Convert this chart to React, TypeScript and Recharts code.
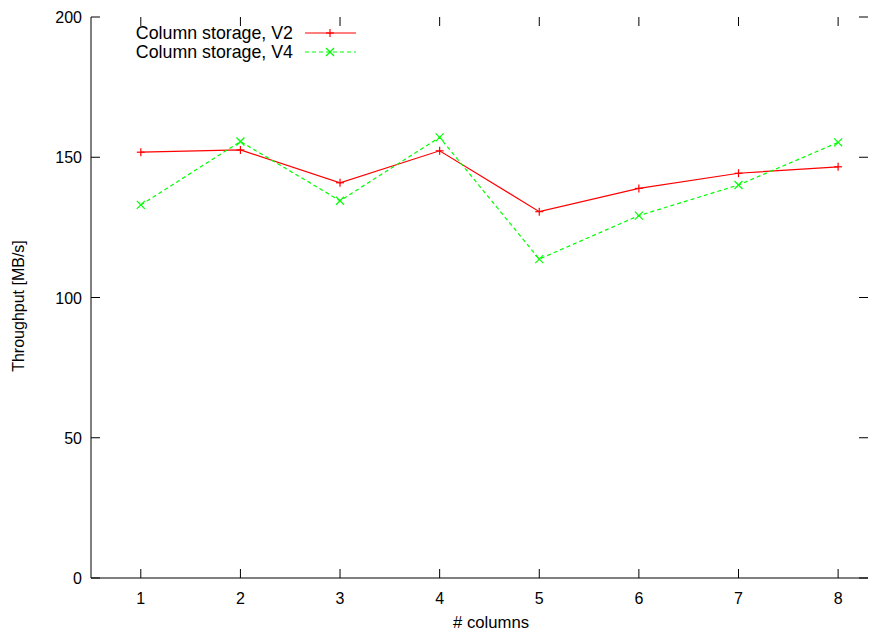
import { LineChart, Line, XAxis, YAxis, Legend, Label } from 'recharts';

const columns = [1, 2, 3, 4, 5, 6, 7, 8];
const v2Throughput = [151.8, 152.6, 140.9, 152.3, 130.6, 138.9, 144.3, 146.6];
const v4Throughput = [133.0, 155.6, 134.5, 157.1, 113.7, 129.2, 140.1, 155.3];
const seriesNames = ['Column storage, V2', 'Column storage, V4'];
const yTicks = [0, 50, 100, 150, 200];

const data = columns.map((c, i) => ({ cols: c, v2: v2Throughput[i], v4: v4Throughput[i] }));

const W = 880;
const H = 632;
const LEFT = 91;
const RIGHT = 868;
const TOP = 17;
const BOTTOM = 578;
const TICK = 9;
const FONT = '"Liberation Sans", Arial, sans-serif';
const RED = '#ff0000';
const GREEN = '#00ff00';

function Plus({ cx, cy }: any) {
  if (cx == null || cy == null) return null;
  return (
    <g stroke={RED} strokeWidth={1.2}>
      <line x1={cx - 4} y1={cy} x2={cx + 4} y2={cy} />
      <line x1={cx} y1={cy - 4} x2={cx} y2={cy + 4} />
    </g>
  );
}

function Cross({ cx, cy }: any) {
  if (cx == null || cy == null) return null;
  return (
    <g stroke={GREEN} strokeWidth={1.2}>
      <line x1={cx - 4} y1={cy - 4} x2={cx + 4} y2={cy + 4} />
      <line x1={cx - 4} y1={cy + 4} x2={cx + 4} y2={cy - 4} />
    </g>
  );
}

function XTick({ x, payload }: any) {
  return (
    <g>
      <line x1={x} y1={BOTTOM} x2={x} y2={BOTTOM - TICK} stroke="#000" />
      <line x1={x} y1={TOP} x2={x} y2={TOP + TICK} stroke="#000" />
      <text x={x} y={604} textAnchor="middle" fontSize={16} fontFamily={FONT} fill="#000">
        {payload.value}
      </text>
    </g>
  );
}

function YTick({ y, payload }: any) {
  return (
    <g>
      <line x1={LEFT} y1={y} x2={LEFT + TICK} y2={y} stroke="#000" />
      <line x1={RIGHT} y1={y} x2={RIGHT - TICK} y2={y} stroke="#000" />
      <text x={82} y={y + 6} textAnchor="end" fontSize={16} fontFamily={FONT} fill="#000">
        {payload.value}
      </text>
    </g>
  );
}

function LegendBox() {
  const rows = [
    { name: seriesNames[0], color: RED, dash: undefined, Mark: Plus },
    { name: seriesNames[1], color: GREEN, dash: '4 3', Mark: Cross },
  ];
  return (
    <svg width={380} height={70} style={{ display: 'block' }}>
      {rows.map((r, i) => {
        const y = 33 + i * 19;
        return (
          <g key={r.name}>
            <text x={293} y={y + 6} textAnchor="end" fontSize={17.8} fontFamily={FONT} fill="#000">
              {r.name}
            </text>
            <line x1={305} y1={y} x2={356} y2={y} stroke={r.color} strokeWidth={1.2} strokeDasharray={r.dash} />
            <r.Mark cx={330} cy={y} />
          </g>
        );
      })}
    </svg>
  );
}

export default function App() {
  return (
    <div style={{ position: 'absolute', left: 0, top: 0, width: W, height: H, background: '#fff' }}>
      <LineChart width={W} height={H} data={data} margin={{ top: TOP, right: W - RIGHT, bottom: 0, left: 0 }}>
        <XAxis
          dataKey="cols"
          type="number"
          domain={[0.5, 8.3]}
          ticks={columns}
          height={H - BOTTOM}
          axisLine={{ stroke: '#000' }}
          tickLine={false}
          tick={<XTick />}
          interval={0}
        >
          <Label
            content={() => (
              <text x={491} y={628} textAnchor="middle" fontSize={16.7} fontFamily={FONT} fill="#000">
                # columns
              </text>
            )}
          />
        </XAxis>
        <XAxis xAxisId="top" orientation="top" height={0} tick={false} tickLine={false} axisLine={{ stroke: '#000' }} dataKey="cols" type="number" domain={[0.5, 8.3]} />
        <YAxis
          domain={[0, 200]}
          ticks={yTicks}
          width={LEFT}
          axisLine={{ stroke: '#000' }}
          tickLine={false}
          tick={<YTick />}
          interval={0}
        >
          <Label
            content={() => (
              <text
                x={24}
                y={306}
                transform="rotate(-90 24 306)"
                textAnchor="middle"
                fontSize={16}
                fontFamily={FONT}
                fill="#000"
              >
                Throughput [MB/s]
              </text>
            )}
          />
        </YAxis>
        <YAxis yAxisId="right" orientation="right" width={0} tick={false} tickLine={false} axisLine={{ stroke: '#000' }} domain={[0, 200]} />
        <Legend
          layout="horizontal"
          verticalAlign="middle"
          align="center"
          wrapperStyle={{ position: 'absolute', top: 0, left: 0, width: 380, height: 70 }}
          content={() => <LegendBox />}
        />
        <Line
          dataKey="v2"
          name={seriesNames[0]}
          stroke={RED}
          strokeWidth={1.2}
          dot={<Plus />}
          activeDot={false}
          isAnimationActive={false}
        />
        <Line
          dataKey="v4"
          name={seriesNames[1]}
          stroke={GREEN}
          strokeWidth={1.2}
          strokeDasharray="4 3"
          dot={<Cross />}
          activeDot={false}
          isAnimationActive={false}
        />
      </LineChart>
    </div>
  );
}
